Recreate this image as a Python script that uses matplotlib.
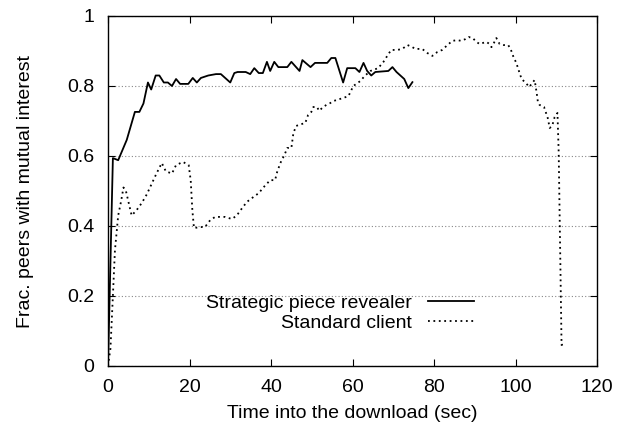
import matplotlib
matplotlib.use("Agg")
import matplotlib.pyplot as plt

plt.rcParams['font.family'] = ['Liberation Sans', 'DejaVu Sans']

# strategic piece revealer (solid)
t_strategic = [0, 1.2, 2.5, 4.6, 6.6, 7.7, 8.7, 9.8, 10.6, 11.7, 12.6, 13.7, 14.7,
               15.7, 16.7, 17.7, 19.7, 20.8, 21.8, 22.8, 24.6, 26.5, 27.7, 30.0,
               31.0, 31.8, 33.8, 34.9, 35.9, 37.0, 38.0, 39.0, 39.8, 40.8, 41.8,
               44.0, 45.0, 47.0, 47.7, 49.7, 50.8, 53.8, 54.8, 55.8, 57.7, 58.7,
               60.7, 61.7, 62.7, 63.6, 64.6, 65.6, 68.8, 69.8, 70.8, 72.7, 73.7, 74.7]
y_strategic = [0, 0.594, 0.588, 0.646, 0.726, 0.726, 0.75, 0.81, 0.79, 0.83, 0.83,
               0.81, 0.81, 0.80, 0.82, 0.806, 0.806, 0.823, 0.81, 0.823, 0.83, 0.834,
               0.834, 0.81, 0.837, 0.84, 0.84, 0.834, 0.851, 0.837, 0.837, 0.869,
               0.843, 0.869, 0.854, 0.854, 0.869, 0.843, 0.874, 0.854, 0.866, 0.866,
               0.88, 0.88, 0.81, 0.851, 0.851, 0.84, 0.866, 0.843, 0.83, 0.84, 0.843,
               0.854, 0.84, 0.82, 0.794, 0.811]

# standard client (dotted)
t_standard = [0, 0.6, 1.2, 1.7, 2.5, 3.2, 3.8, 4.4, 5.0, 5.8, 7.0, 8.3, 9.5, 10.7,
              11.9, 13.2, 14.2, 15.7, 16.7, 18.4, 19.8, 20.3, 20.7, 21.1, 22.6, 23.8,
              25.1, 26.3, 28.7, 30.4, 31.6, 32.9, 34.1, 35.7, 37.0, 38.2, 39.8, 41.0,
              41.5, 42.3, 43.3, 44.0, 45.0, 45.5, 46.2, 47.4, 48.4, 49.1, 49.9, 50.4,
              51.3, 51.8, 52.8, 53.6, 54.5, 55.3, 57.5, 59.0, 60.2, 61.9, 63.1, 64.4,
              66.3, 67.6, 68.8, 69.5, 71.0, 72.2, 73.5, 74.7, 75.4, 77.1, 78.4, 79.6,
              80.8, 82.0, 83.3, 84.5, 85.7, 86.7, 87.7, 88.5, 89.5, 90.4, 91.2, 92.0,
              92.9, 93.6, 94.1, 94.7, 95.3, 96.1, 97.1, 98.2, 98.8, 99.5, 100.2, 101.0,
              101.5, 102.5, 103.4, 104.1, 104.7, 105.2, 105.5, 105.9, 107.0, 107.9,
              108.4, 109.0, 109.6, 110.3, 110.6, 111.0, 111.3, 112.3]
y_standard = [0, 0.05, 0.2, 0.33, 0.43, 0.47, 0.51, 0.50, 0.47, 0.43, 0.445, 0.466,
              0.49, 0.52, 0.55, 0.58, 0.556, 0.55, 0.574, 0.583, 0.574, 0.53, 0.445,
              0.394, 0.397, 0.397, 0.417, 0.426, 0.426, 0.42, 0.43, 0.451, 0.469, 0.483,
              0.494, 0.511, 0.531, 0.531, 0.554, 0.58, 0.603, 0.623, 0.623, 0.666, 0.686,
              0.691, 0.694, 0.717, 0.726, 0.74, 0.74, 0.729, 0.74, 0.746, 0.751, 0.757,
              0.765, 0.771, 0.80, 0.814, 0.83, 0.843, 0.851, 0.869, 0.891, 0.903, 0.903,
              0.906, 0.917, 0.911, 0.906, 0.906, 0.894, 0.886, 0.897, 0.903, 0.917,
              0.929, 0.931, 0.929, 0.934, 0.94, 0.937, 0.926, 0.92, 0.923, 0.926, 0.92,
              0.911, 0.923, 0.937, 0.92, 0.917, 0.917, 0.906, 0.883, 0.866, 0.837, 0.82,
              0.809, 0.797, 0.809, 0.817, 0.78, 0.754, 0.746, 0.74, 0.709, 0.68, 0.686,
              0.711, 0.723, 0.609, 0.3, 0.06, 0.066]

fig = plt.figure(figsize=(6.27, 4.34), dpi=100)
ax = fig.add_axes([108 / 627, 68 / 434, 489 / 627, 350 / 434])

ax.plot(t_strategic, y_strategic, color='black', linewidth=1.3,
        label='Strategic piece revealer')
ax.plot(t_standard, y_standard, color='black', linewidth=1.3,
        linestyle=(0, (1, 2)), label='Standard client')

ax.set_xlim(0, 120)
ax.set_ylim(0, 1)
ax.set_xticks([0, 20, 40, 60, 80, 100, 120])
ax.set_yticks([0, 0.2, 0.4, 0.6, 0.8, 1])
ax.set_yticklabels(['0', '0.2', '0.4', '0.6', '0.8', '1'])
ax.yaxis.grid(True, linestyle=(0, (1, 2)), color='#888888', linewidth=0.8)
ax.tick_params(direction='in', top=True, right=True, labelsize=14, length=5)
ax.tick_params(axis='x', pad=9)
ax.tick_params(axis='y', pad=10)
for s in ax.spines.values():
    s.set_linewidth(1.0)

ax.set_xlabel('Time into the download (sec)', fontsize=14, labelpad=7)
ax.set_ylabel('Frac. peers with mutual interest', fontsize=14, labelpad=24)

ax.legend(loc='lower right', bbox_to_anchor=(0.785, 0.047), frameon=False,
          markerfirst=False, fontsize=14, handlelength=2.4, handletextpad=0.8,
          labelspacing=0.15)

fig.savefig('out.png', dpi=100)
